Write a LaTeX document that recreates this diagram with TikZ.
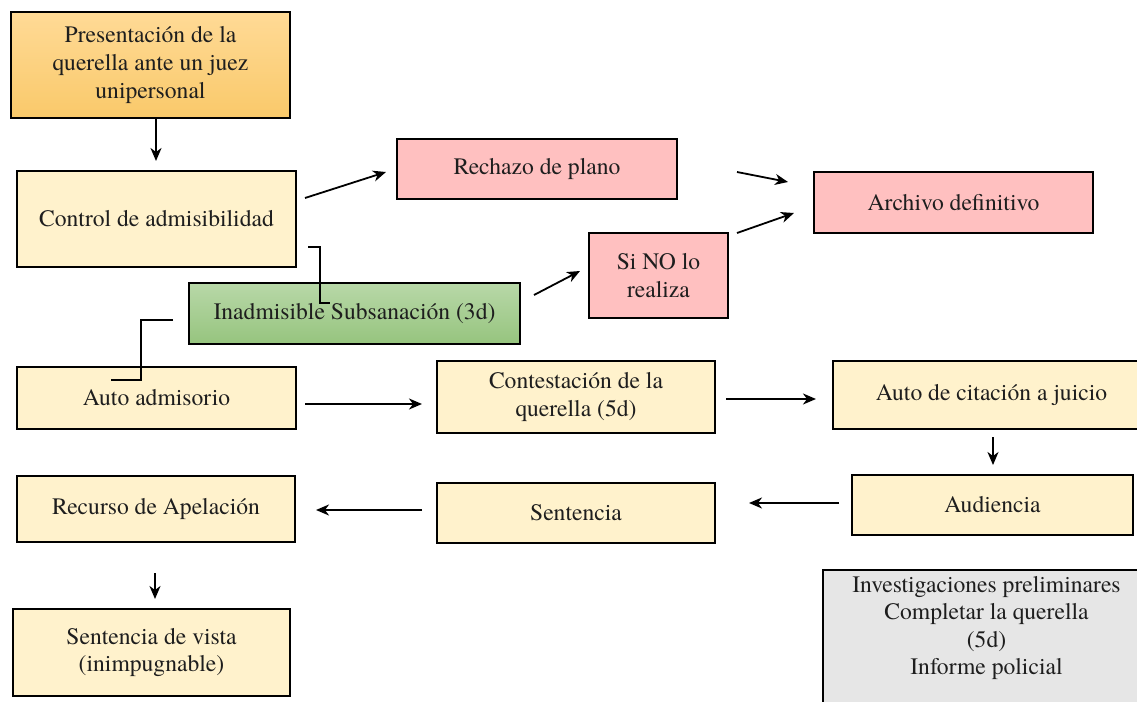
\documentclass[tikz,border=0pt]{standalone}
\usepackage{fontspec}
\setmainfont{texgyretermes-regular.otf}[BoldFont=texgyretermes-bold.otf]
\usetikzlibrary{arrows.meta,calc}
\definecolor{creamc}{RGB}{255,242,204}
\definecolor{pinkc}{RGB}{255,192,192}
\definecolor{greyc}{RGB}{230,230,230}
\definecolor{orangetop}{RGB}{255,218,150}
\definecolor{orangebot}{RGB}{249,201,106}
\definecolor{greentop}{RGB}{184,216,168}
\definecolor{greenbot}{RGB}{150,196,126}
\definecolor{txt}{RGB}{30,30,30}
\begin{document}
\begin{tikzpicture}[x=1pt,y=-1pt,
  box/.style={draw=black, line width=1.6pt, align=center, inner sep=2pt,
    font=\rmfamily\fontsize{23.6}{27.6}\selectfont, text=txt},
  cream/.style={box, fill=creamc},
  pinkbox/.style={box, fill=pinkc},
  arr/.style={line width=1.8pt, -{Stealth[length=13pt,width=11pt,inset=4pt]}},
  elbow/.style={line width=1.8pt}]
\useasboundingbox (0,0) rectangle (1137,701);

% nodes
\node[box, top color=orangetop, bottom color=orangebot, minimum width=279pt, minimum height=106pt] (pres) at (150.5,65)
  {Presentación de la\\querella ante un juez\\unipersonal};
\node[cream, minimum width=279pt, minimum height=96pt] (control) at (156.5,219) {Control de admisibilidad};
\node[pinkbox, minimum width=280pt, minimum height=60pt] (rechazo) at (537,169) {Rechazo de plano};
\node[pinkbox, minimum width=279pt, minimum height=61pt] (archivo) at (953.5,202.5) {Archivo definitivo};
\node[pinkbox, minimum width=139pt, minimum height=85pt] (sino) at (658.5,275.5) {Si NO lo\\realiza};
\node[box, top color=greentop, bottom color=greenbot, minimum width=331pt, minimum height=61pt] (inad) at (354.5,313.5)
  {Inadmisible Subsanación (3d)};
\node[cream, minimum width=279pt, minimum height=62pt] (auto) at (156.5,398) {Auto admisorio};
\node[cream, minimum width=278pt, minimum height=72pt] (contest) at (576,397) {Contestación de la\\querella (5d)};
\node[cream, minimum width=317pt, minimum height=68pt] (citacion) at (991.5,395) {Auto de citación a juicio};
\node[cream, minimum width=281pt, minimum height=60pt] (audiencia) at (992.5,505) {Audiencia};
\node[cream, minimum width=278pt, minimum height=60pt] (sentencia) at (576,513) {Sentencia};
\node[cream, minimum width=278pt, minimum height=66pt] (recurso) at (156,509) {Recurso de Apelación};
\node[cream, minimum width=277pt, minimum height=87pt] (vista) at (151.5,652.5) {Sentencia de vista\\(inimpugnable)};
\node[box, fill=greyc, minimum width=327pt, minimum height=139pt, anchor=north] (grey) at (986.5,569)
  {Investigaciones preliminares\\Completar la querella\\(5d)\\Informe policial\\\mbox{}};

% arrow end points
\coordinate (a0s) at (156,119); \coordinate (a0e) at (156,161);
\coordinate (a1s) at (305,198); \coordinate (a1e) at (386,172);
\coordinate (a2s) at (737,172); \coordinate (a2e) at (788,182);
\coordinate (a3s) at (737,233); \coordinate (a3e) at (794,213);
\coordinate (a4s) at (534,295); \coordinate (a4e) at (580,271);
\coordinate (a5s) at (305,404); \coordinate (a5e) at (422,404);
\coordinate (a6s) at (726,399); \coordinate (a6e) at (816,399);
\coordinate (a7s) at (993,437); \coordinate (a7e) at (993,465);
\coordinate (a8s) at (839,503); \coordinate (a8e) at (749,503);
\coordinate (a9s) at (422,510); \coordinate (a9e) at (316,510);
\coordinate (a10s) at (155,573); \coordinate (a10e) at (155,599);

\draw[arr] (a0s) -- (a0e);
\draw[arr] (a1s) -- (a1e);
\draw[arr] (a2s) -- (a2e);
\draw[arr] (a3s) -- (a3e);
\draw[arr] (a4s) -- (a4e);
\draw[arr] (a5s) -- (a5e);
\draw[arr] (a6s) -- (a6e);
\draw[arr] (a7s) -- (a7e);
\draw[arr] (a8s) -- (a8e);
\draw[arr] (a9s) -- (a9e);
\draw[arr] (a10s) -- (a10e);

% elbow connectors
\coordinate (e1a) at (308,247); \coordinate (e1b) at (320,303); \coordinate (e1c) at (330,303);
\draw[elbow] (e1a) -| (e1b) -- (e1c);
\coordinate (e2a) at (173,320); \coordinate (e2b) at (141,380); \coordinate (e2c) at (111,380);
\draw[elbow] (e2a) -| (e2b) -- (e2c);
\end{tikzpicture}
\end{document}
